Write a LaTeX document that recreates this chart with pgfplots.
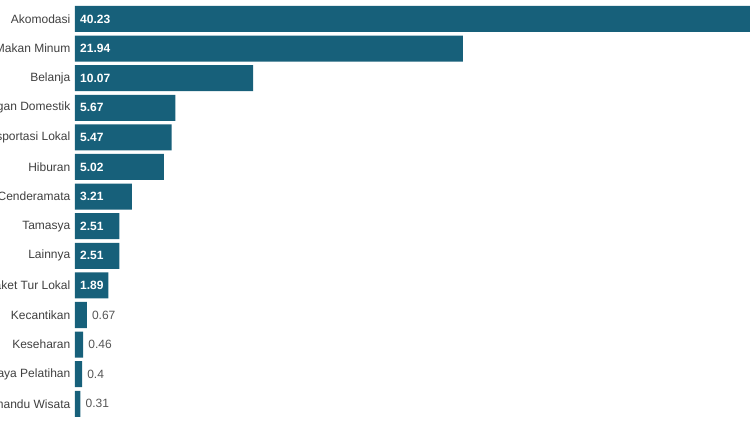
\documentclass[border=0pt]{standalone}
\usepackage{pgfplots}
\usepackage{pgfplotstable}
\pgfplotsset{compat=1.18}
\usepackage{fontspec}
\setmainfont{Liberation Sans}
\definecolor{barc}{HTML}{17607A}
\definecolor{lbl}{HTML}{404040}
\definecolor{val}{HTML}{555555}

\pgfplotstableread{
y v
0 40.23
1 21.94
2 10.07
3 5.67
4 5.47
5 5.02
6 3.21
7 2.51
8 2.51
9 1.89
10 0.67
11 0.46
12 0.4
13 0.31
}\spend

\pgfplotstableread{
y v
0 40.23
1 21.94
2 10.07
3 5.67
4 5.47
5 5.02
6 3.21
7 2.51
8 2.51
9 1.89
}\inside

\pgfplotstableread{
y v
10 0.67
11 0.46
12 0.4
13 0.31
}\outside

\begin{document}
\begin{tikzpicture}
% crop the page like the reference (left labels and the first bar are cut)
\path[use as bounding box] (-75pt,-11.4pt) rectangle (675pt,418.6pt);
\begin{axis}[
    scale only axis,
    width=675pt, height=414.4pt,
    xmin=0, xmax=38.17,
    ymin=-0.5, ymax=13.5,
    y dir=reverse,
    axis line style={draw=none},
    xtick=\empty,
    ytick={0,...,13},
    yticklabels={Akomodasi, Makan Minum, Belanja, Penerbangan Domestik,
        Transportasi Lokal, Hiburan, Cenderamata, Tamasya, Lainnya,
        Paket Tur Lokal, Kecantikan, Keseharan, Biaya Pelatihan, Pemandu Wisata},
    major tick length=0pt,
    yticklabel style={font=\fontsize{12}{14}\selectfont, text=lbl, inner sep=0pt, xshift=-4.5pt},
    /pgf/number format/assume math mode=true,
]
\addplot[xbar, bar width=26pt, fill=barc, draw=none] table[x=v, y=y] {\spend};
\addplot[draw=none, mark=none, nodes near coords, point meta=explicit,
    nodes near coords style={anchor=west, xshift=5pt, inner sep=0pt,
        font=\bfseries\fontsize{12}{14}\selectfont, text=white}]
    table[x expr=0, y=y, meta=v] {\inside};
\addplot[draw=none, mark=none, nodes near coords, point meta=explicit,
    nodes near coords style={anchor=west, xshift=5pt, inner sep=0pt,
        font=\fontsize{12}{14}\selectfont, text=val}]
    table[x=v, y=y, meta=v] {\outside};
\end{axis}
\end{tikzpicture}
\end{document}
